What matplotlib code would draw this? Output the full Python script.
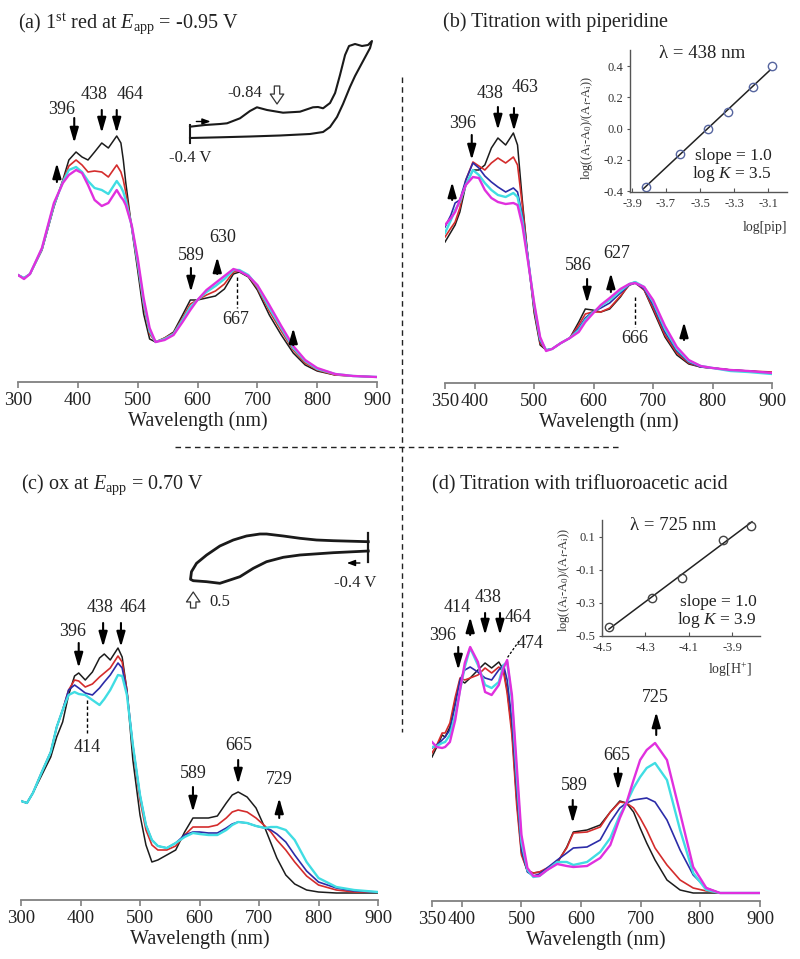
import numpy as np
import matplotlib
matplotlib.use('Agg')
import matplotlib.pyplot as plt
from matplotlib.lines import Line2D

plt.rcParams['font.family'] = ['Liberation Serif', 'DejaVu Serif']
plt.rcParams['mathtext.fontset'] = 'custom'
plt.rcParams['mathtext.rm'] = 'Liberation Serif'
plt.rcParams['mathtext.it'] = 'Liberation Serif:italic'
plt.rcParams['axes.unicode_minus'] = False

# ---------------- data (absorbance in arbitrary units) ----------------
# (a) 1st reduction
wl_a = [300, 310, 320, 340, 360, 375, 385, 397, 407, 417, 428, 440, 451, 465, 472, 476,
        480, 490, 500, 510, 520, 530, 545, 560, 575, 588, 600, 615, 630, 645, 660,
        670, 685, 700, 720, 740, 760, 780, 800, 830, 860, 900]
a_black = [107, 104, 108, 132, 175, 202, 222, 230, 225, 222, 230, 239, 234, 246, 239, 222,
           200, 154, 112, 68, 43, 40, 44, 50, 67, 82, 82, 84, 86, 93, 108,
           110, 105, 92, 67, 47, 29, 17, 11, 7, 6, 5]
a_red = [107, 104, 108, 132, 176, 201, 216, 222, 217, 210, 211, 210, 205, 217, 210, 202,
         190, 155, 117, 76, 48, 40, 44, 49, 64, 78, 82, 87, 91, 98, 110,
         111, 106, 94, 71, 51, 32, 19, 12, 7, 6, 5]
a_cyan = [107, 104, 108, 133, 177, 200, 212, 215, 210, 201, 194, 192, 188, 201, 195, 190,
          182, 156, 120, 80, 51, 40, 43, 48, 62, 75, 82, 90, 96, 103, 112,
          112, 107, 96, 74, 54, 34, 21, 13, 8, 6, 5]
a_magenta = [107, 103, 108, 134, 179, 199, 207, 212, 209, 197, 182, 176, 179, 192, 185, 182,
             177, 157, 124, 84, 54, 40, 42, 47, 60, 72, 82, 92, 99, 106, 113,
             111, 106, 97, 77, 56, 36, 22, 14, 8, 6, 5]

# (b) titration with piperidine
wl_b = [350, 360, 367, 375, 385, 397, 407, 417, 428, 439, 452, 465, 472, 480, 490,
        500, 510, 520, 530, 545, 560, 575, 586, 598, 612, 627, 645, 660, 670, 685,
        700, 720, 740, 760, 780, 800, 830, 860, 900]
b_black = [141, 151, 158, 171, 198, 213, 213, 218, 235, 245, 238, 250, 238, 183, 122,
           70, 38, 33, 34, 40, 45, 61, 74, 73, 71, 74, 86, 99, 101, 93,
           73, 46, 28, 19, 16, 15, 13, 12, 10]
b_red = [146, 155, 161, 175, 203, 221, 217, 213, 220, 225, 220, 226, 218, 178, 123,
         73, 40, 33, 34, 40, 45, 58, 69, 71, 71, 75, 87, 98, 100, 93,
         75, 48, 30, 20, 16, 15, 13, 12, 11]
b_blue = [156, 168, 180, 183, 203, 220, 215, 207, 201, 196, 191, 195, 191, 168, 124,
          76, 42, 33, 34, 40, 45, 55, 65, 71, 75, 80, 90, 98, 100, 94,
          78, 51, 32, 21, 16, 15, 13, 12, 10]
b_cyan = [150, 163, 173, 181, 198, 213, 208, 200, 193, 188, 186, 190, 186, 163, 122,
          78, 44, 33, 34, 40, 45, 53, 63, 70, 77, 83, 92, 99, 101, 96,
          81, 54, 34, 22, 17, 15, 12, 11, 9]
b_magenta = [158, 165, 171, 183, 198, 206, 205, 193, 185, 181, 179, 180, 178, 158, 120,
             80, 46, 32, 34, 40, 45, 51, 61, 69, 78, 85, 94, 99, 100, 96,
             83, 57, 36, 23, 17, 15, 13, 12, 10]

# (c) oxidation
wl_c = [300, 310, 320, 335, 350, 360, 370, 380, 390, 397, 408, 420, 432, 440, 450,
        463, 470, 478, 488, 500, 510, 520, 530, 545, 560, 575, 589, 600, 615, 630,
        645, 655, 665, 680, 695, 710, 720, 730, 745, 760, 780, 800, 830, 860, 900]
c_black = [99, 97, 107, 125, 143, 163, 178, 205, 224, 227, 220, 228, 242, 246, 240,
           252, 243, 210, 140, 85, 55, 38, 40, 45, 50, 68, 82, 82, 82, 84,
           97, 105, 108, 103, 92, 72, 57, 42, 25, 16, 10, 8, 7, 7, 7]
c_red = [99, 97, 107, 128, 148, 173, 190, 210, 220, 219, 213, 216, 223, 227, 232,
         244, 238, 210, 152, 100, 70, 55, 50, 50, 54, 65, 73, 73, 73, 75,
         82, 88, 90, 88, 82, 74, 68, 60, 50, 38, 24, 15, 10, 8, 8]
c_blue = [99, 97, 107, 128, 148, 173, 190, 210, 215, 212, 207, 205, 212, 218, 225,
          237, 232, 208, 155, 105, 75, 60, 54, 52, 57, 65, 68, 68, 67, 67,
          72, 76, 78, 77, 74, 72, 70, 66, 58, 45, 29, 18, 12, 9, 8]
c_cyan = [99, 97, 107, 128, 148, 173, 190, 205, 208, 206, 205, 200, 195, 201, 210,
          225, 224, 205, 155, 105, 75, 60, 54, 52, 57, 63, 67, 66, 65, 65,
          70, 75, 78, 77, 74, 72, 73, 73, 70, 60, 38, 22, 13, 10, 8]

# (d) titration with trifluoroacetic acid
wl_d = [350, 358, 367, 372, 380, 389, 397, 405, 414, 427, 439, 450, 462, 470, 476,
        484, 492, 500, 510, 520, 530, 543, 560, 576, 587, 610, 632, 649, 665, 676,
        688, 699, 710, 724, 744, 766, 788, 810, 833, 860, 900]
d_black = [144, 154, 166, 164, 174, 201, 221, 218, 223, 231, 238, 233, 239, 231, 211,
           171, 101, 48, 30, 28, 29, 31, 38, 54, 69, 71, 76, 89, 100, 98,
           89, 73, 58, 41, 21, 11, 8, 8, 8, 8, 8]
d_red = [148, 156, 168, 168, 178, 204, 223, 221, 223, 226, 233, 228, 234, 229, 208,
         166, 96, 46, 30, 28, 29, 33, 39, 53, 68, 69, 74, 89, 99, 98,
         93, 83, 71, 53, 36, 21, 13, 10, 8, 8, 8]
d_blue = [153, 156, 161, 164, 171, 196, 221, 231, 234, 229, 223, 221, 231, 236, 221,
          181, 111, 51, 29, 25, 27, 33, 41, 48, 53, 54, 61, 79, 93, 98,
          101, 102, 103, 99, 81, 51, 26, 13, 8, 8, 8]
d_cyan = [154, 155, 158, 159, 166, 186, 211, 234, 253, 236, 216, 213, 219, 236, 239,
          201, 126, 59, 31, 24, 25, 31, 39, 39, 36, 39, 49, 63, 86, 98,
          113, 124, 133, 138, 121, 71, 28, 11, 8, 8, 8]
d_magenta = [159, 154, 153, 154, 159, 181, 211, 238, 254, 239, 209, 206, 216, 233, 241,
             206, 136, 66, 33, 25, 25, 31, 37, 35, 34, 35, 43, 56, 83, 98,
             121, 141, 151, 158, 141, 88, 34, 13, 8, 8, 8]

# linear fits (insets)
pip_logc = [-3.82, -3.618, -3.453, -3.335, -3.188, -3.076]
pip_logr = [-0.374, -0.161, 0.0, 0.103, 0.264, 0.40]
pip_fit_x = [-3.835, -3.088]
pip_fit_y = [-0.387, 0.374]
h_logc = [-4.468, -4.270, -4.132, -3.943, -3.815]
h_logr = [-0.446, -0.272, -0.146, 0.082, 0.166]
h_fit_x = [-4.468, -3.81]
h_fit_y = [-0.458, 0.191]

# cyclic voltammograms (E in V, I arbitrary)
cv_a_E = [-0.400, -0.495, -0.590, -0.634, -0.716, -0.779, -0.823, -0.887, -0.988, -1.095,
          -1.177, -1.209, -1.241, -1.285, -1.317, -1.348, -1.380, -1.405, -1.443, -1.487,
          -1.525, -1.550,
          -1.538, -1.487, -1.443, -1.411, -1.367, -1.329, -1.285, -1.241, -1.158, -0.969,
          -0.779, -0.590, -0.400]
cv_a_I = [1.83, 2.0, 2.1, 2.17, 2.67, 3.4, 3.77, 3.5, 3.23, 3.33,
          3.77, 3.8, 3.67, 4.2, 5.2, 7.0, 9.0, 9.9, 10.1, 9.9,
          10.0, 10.4,
          9.7, 8.2, 6.9, 5.8, 4.1, 2.8, 1.8, 1.3, 1.1, 0.95,
          0.85, 0.77, 0.7]
cv_c_E = [-0.400, -0.220, -0.134, -0.049, 0.037, 0.123, 0.157, 0.226, 0.294, 0.363,
          0.431, 0.483, 0.509, 0.514,
          0.500, 0.431, 0.363, 0.311, 0.260, 0.191, 0.123, 0.037, -0.049, -0.220, -0.400]
cv_c_I = [4.83, 4.93, 5.0, 5.17, 5.4, 5.6, 5.6, 5.4, 5.0, 4.4,
          3.5, 2.67, 1.83, 1.07,
          0.93, 0.83, 0.67, 1.0, 1.33, 2.17, 2.83, 3.27, 3.5, 3.73, 3.9]

COL = {'black': '#1c1c1c', 'red': '#d42c2c', 'blue': '#2c2ca8',
       'cyan': '#40dde3', 'magenta': '#e030de'}
LW = {'black': 1.1, 'red': 1.2, 'blue': 1.2, 'cyan': 1.7, 'magenta': 1.7}

# ---------------- figure ----------------
W, H = 800, 959
fig = plt.figure(figsize=(W / 100, H / 100), dpi=100)


def px_axes(l, t, r, b):
    return fig.add_axes([l / W, 1 - b / H, (r - l) / W, (b - t) / H])


def ftext(x, y, s, **kw):
    fig.text(x / W, 1 - y / H, s, **kw)


def spectra_axes(rect, wl, series, xlim, ticks, ytop):
    ax = px_axes(*rect)
    ax.patch.set_alpha(0)
    for key, vals in series:
        ax.plot(wl, vals, color=COL[key], lw=LW[key], solid_joinstyle='round')
    ax.set_xlim(*xlim)
    ax.set_ylim(0, ytop)
    for s in ('left', 'right', 'top'):
        ax.spines[s].set_visible(False)
    ax.spines['bottom'].set_color('#808080')
    ax.spines['bottom'].set_linewidth(1.3)
    ax.set_yticks([])
    ax.set_xticks(ticks)
    ax.tick_params(axis='x', direction='out', length=4.5, width=1.2, color='#808080',
                   labelsize=13.5, pad=3, labelcolor='#222222')
    ax.set_xlabel('Wavelength (nm)', fontsize=14.5, labelpad=1, color='#222222')
    return ax


def arrow(ax, x, y0, y1):
    ax.annotate('', xy=(x, y1), xytext=(x, y0), annotation_clip=False,
                arrowprops=dict(arrowstyle='-|>,head_length=0.9,head_width=0.26',
                                color='k', lw=1.5, shrinkA=0, shrinkB=0,
                                mutation_scale=10))


def label(ax, x, y, s):
    ax.text(x, y, s, fontsize=13, ha='center', va='center', color='#222222',
            clip_on=False)


def vdash(ax, x, y0, y1):
    ax.plot([x, x], [y0, y1], color='k', lw=1.0, dashes=(2.5, 1.8), clip_on=False)


ticks_300 = [300, 400, 500, 600, 700, 800, 900]
ticks_350 = [350, 400, 500, 600, 700, 800, 900]

# (a)
axa = spectra_axes((18, 50, 377, 382), wl_a,
                   [('black', a_black), ('red', a_red), ('cyan', a_cyan), ('magenta', a_magenta)],
                   (300, 900), ticks_300, 332)
label(axa, 373, 272, '396'); arrow(axa, 394, 264, 239)
label(axa, 427, 287, '438'); arrow(axa, 440, 272, 249)
label(axa, 487, 287, '464'); arrow(axa, 465, 272, 249)
arrow(axa, 365, 200, 219)
label(axa, 590, 127, '589'); arrow(axa, 589, 114, 90)
label(axa, 642, 145, '630'); arrow(axa, 633, 108, 125)
vdash(axa, 666, 105, 74); label(axa, 663, 62, '667')
arrow(axa, 760, 37, 54)

# (b)
axb = spectra_axes((445, 50, 772, 383), wl_b,
                   [('black', b_black), ('red', b_red), ('blue', b_blue), ('cyan', b_cyan),
                    ('magenta', b_magenta)],
                   (350, 900), ticks_350, 333)
label(axb, 379, 260, '396'); arrow(axb, 395, 248, 223)
label(axb, 426, 290, '438'); arrow(axb, 439, 276, 253)
label(axb, 485, 295, '463'); arrow(axb, 466, 275, 252)
arrow(axb, 362, 183, 201)
label(axb, 575, 118, '586'); arrow(axb, 589, 104, 80)
label(axb, 639, 130, '627'); arrow(axb, 629, 91, 110)
vdash(axb, 669, 86, 56); label(axb, 669, 45, '666')
arrow(axb, 752, 43, 61)

# (c)
axc = spectra_axes((21, 570, 378, 900), wl_c,
                   [('black', c_black), ('red', c_red), ('blue', c_blue), ('cyan', c_cyan)],
                   (300, 900), ticks_300, 330)
label(axc, 387, 268, '396'); arrow(axc, 397, 257, 232)
label(axc, 433, 292, '438'); arrow(axc, 438, 277, 253)
label(axc, 488, 292, '464'); arrow(axc, 468, 277, 253)
vdash(axc, 411, 200, 167); label(axc, 411, 153, '414')
label(axc, 589, 127, '589'); arrow(axc, 589, 113, 88)
label(axc, 666, 155, '665'); arrow(axc, 665, 140, 116)
label(axc, 734, 120, '729'); arrow(axc, 734, 82, 102)

# (d)
axd = spectra_axes((432, 570, 760, 901), wl_d,
                   [('black', d_black), ('red', d_red), ('blue', d_blue), ('cyan', d_cyan),
                    ('magenta', d_magenta)],
                   (350, 900), ticks_350, 331)
label(axd, 367, 266, '396'); arrow(axd, 394, 254, 231)
label(axd, 392, 293, '414'); arrow(axd, 414, 266, 284)
label(axd, 444, 304, '438'); arrow(axd, 439, 288, 266)
label(axd, 494, 283, '464'); arrow(axd, 464, 288, 266)
label(axd, 515, 258, '474')
axd.plot([496, 476], [260, 243], color='k', lw=0.9, dashes=(2, 1.5))
label(axd, 724, 203, '725'); arrow(axd, 726, 166, 189)
label(axd, 659, 146, '665'); arrow(axd, 662, 133, 111)
label(axd, 588, 115, '589'); arrow(axd, 586, 101, 78)

# ---------------- CV insets ----------------
cva = px_axes(180, 30, 380, 160)
cva.set_axis_off(); cva.patch.set_alpha(0)
cva.plot(cv_a_E, cv_a_I, color='#1a1a1a', lw=1.5)
cva.plot([-0.4, -0.4], [0.2, 2.0], color='#1a1a1a', lw=1.5)
cva.set_xlim(-0.3368, -1.6008); cva.set_ylim(-1.5, 11.5)
cva.annotate('', xy=(-0.53, 2.35), xytext=(-0.44, 2.35),
             arrowprops=dict(arrowstyle='-|>,head_length=0.8,head_width=0.3', color='k',
                             lw=1.0, shrinkA=0, shrinkB=0, mutation_scale=6))
cva.text(-0.748, 5.2, '-0.84', fontsize=12, ha='center', va='center', color='#222')
cva.annotate('', xy=(-0.95, 4.1), xytext=(-0.95, 5.9),
             arrowprops=dict(arrowstyle='simple,head_length=0.55,head_width=0.75,tail_width=0.3',
                             fc='white', ec='#333', lw=0.9, shrinkA=0, shrinkB=0,
                             mutation_scale=13))
cva.text(-0.4, -1.3, '-0.4 V', fontsize=12, ha='center', va='center', color='#222')

cvc = px_axes(180, 520, 385, 615)
cvc.set_axis_off(); cvc.patch.set_alpha(0)
cvc.plot(cv_c_E, cv_c_I, color='#1a1a1a', lw=2.0)
cvc.plot([-0.4, -0.4], [2.8, 5.7], color='#1a1a1a', lw=1.6)
cvc.set_xlim(0.568, -0.486); cvc.set_ylim(-2.5, 7.0)
cvc.annotate('', xy=(-0.29, 2.7), xytext=(-0.357, 2.7),
             arrowprops=dict(arrowstyle='-|>,head_length=0.8,head_width=0.3', color='k',
                             lw=1.0, shrinkA=0, shrinkB=0, mutation_scale=6))
cvc.text(-0.331, 0.7, '-0.4 V', fontsize=12, ha='center', va='center', color='#222')
cvc.annotate('', xy=(0.50, -0.2), xytext=(0.50, -1.8),
             arrowprops=dict(arrowstyle='simple,head_length=0.55,head_width=0.75,tail_width=0.3',
                             fc='white', ec='#333', lw=0.9, shrinkA=0, shrinkB=0,
                             mutation_scale=13))
cvc.text(0.362, -1.2, '0.5', fontsize=12, ha='center', va='center', color='#222')


# ---------------- linear-fit insets ----------------
def fit_inset(rect, xs, ys, fx, fy, xlim, ylim, xt, yt, mcol):
    ax = px_axes(*rect)
    ax.patch.set_alpha(0)
    ax.plot(fx, fy, color='#222222', lw=1.1)
    ax.plot(xs, ys, 'o', mfc='none', mec=mcol, ms=6, mew=1.0, clip_on=False)
    ax.set_xlim(*xlim); ax.set_ylim(*ylim)
    ax.spines['top'].set_visible(False); ax.spines['right'].set_visible(False)
    for s in ('left', 'bottom'):
        ax.spines[s].set_color('#555555'); ax.spines[s].set_linewidth(1.0)
    ax.set_xticks(xt); ax.set_yticks(yt)
    ax.set_xticklabels(['%.1f' % v for v in xt])
    ax.set_yticklabels(['%.1f' % v for v in yt])
    ax.tick_params(axis='x', direction='in', length=3, labelsize=9, pad=4, color='#555',
                   labelcolor='#333')
    ax.tick_params(axis='y', direction='out', length=2.5, labelsize=9, pad=2, color='#555',
                   labelcolor='#333')
    return ax


fit_inset((630, 50, 787, 192), pip_logc, pip_logr, pip_fit_x, pip_fit_y,
          (-3.912, -2.988), (-0.406, 0.503),
          [-3.9, -3.7, -3.5, -3.3, -3.1], [-0.4, -0.2, 0.0, 0.2, 0.4], '#56659f')
ftext(702, 53, 'λ = 438 nm', fontsize=13.5, ha='center', va='center', color='#222')
ftext(772, 156, 'slope = 1.0', fontsize=12.5, ha='right', va='center', color='#222')
ftext(772, 174, r'log $K$ = 3.5', fontsize=12.5, ha='right', va='center', color='#222')
ftext(587, 128, r'log((A$_{\rm i}$-A$_0$)/(A$_{\rm f}$-A$_{\rm i}$))', fontsize=9,
      rotation=90, ha='center', va='center', color='#333')
ftext(765, 227, 'log[pip]', fontsize=10, ha='center', va='center', color='#333')

fit_inset((602, 520, 760, 636), h_logc, h_logr, h_fit_x, h_fit_y,
          (-4.5, -3.773), (-0.5, 0.202),
          [-4.5, -4.3, -4.1, -3.9], [0.1, -0.1, -0.3, -0.5], '#444444')
ftext(673, 525, 'λ = 725 nm', fontsize=13.5, ha='center', va='center', color='#222')
ftext(757, 602, 'slope = 1.0', fontsize=12.5, ha='right', va='center', color='#222')
ftext(757, 620, r'log $K$ = 3.9', fontsize=12.5, ha='right', va='center', color='#222')
ftext(564, 580, r'log((A$_{\rm i}$-A$_0$)/(A$_{\rm f}$-A$_{\rm i}$))', fontsize=9,
      rotation=90, ha='center', va='center', color='#333')
ftext(730, 670, r'log[H$^{+}$]', fontsize=10, ha='center', va='center', color='#333')

# ---------------- titles ----------------
ftext(18, 29, r'(a) 1$^{\rm st}$ red at $E_{\rm app}$ = -0.95 V', fontsize=14.5,
      va='baseline', color='#222')
ftext(443, 27, '(b) Titration with piperidine', fontsize=14.5, va='baseline', color='#222')
ftext(21, 489, r'(c) ox at $E_{\rm app}$ = 0.70 V', fontsize=14.5, va='baseline', color='#222')
ftext(432, 489, '(d) Titration with trifluoroacetic acid', fontsize=14.5, va='baseline',
      color='#222')

# ---------------- dashed separators ----------------
fig.add_artist(Line2D([402 / W, 402 / W], [1 - 77 / H, 1 - 732 / H], color='#222',
                      lw=1.0, dashes=(4, 3)))
fig.add_artist(Line2D([175 / W, 620 / W], [1 - 447 / H, 1 - 447 / H], color='#222',
                      lw=1.0, dashes=(4, 3)))

fig.savefig('out.png', dpi=100, facecolor='white')
